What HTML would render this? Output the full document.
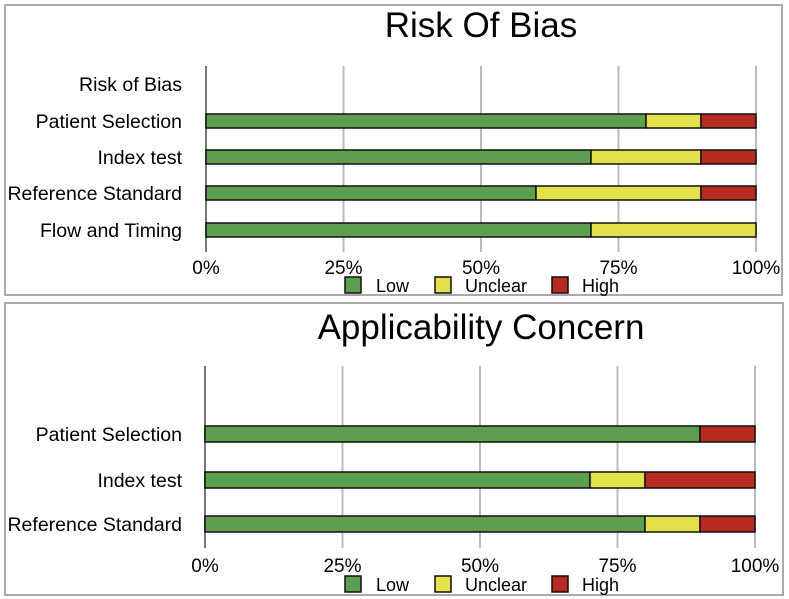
<!DOCTYPE html>
<html><head><meta charset="utf-8"><style>
body{margin:0;background:#fff;font-family:"Liberation Sans",sans-serif;}
svg{display:block}
</style></head><body>
<svg id="c" width="789" height="599" xmlns="http://www.w3.org/2000/svg">
<rect x="5" y="5" width="777" height="290" fill="#fff" stroke="#aaa" stroke-width="2"/>
<rect x="5" y="303" width="778" height="292" fill="#fff" stroke="#aaa" stroke-width="2"/>
</svg>
<script>
const robCats=["Risk of Bias","Patient Selection","Index test","Reference Standard","Flow and Timing"];
const robLow=[null,80,70,60,70];
const robUnclear=[null,10,20,30,30];
const robHigh=[null,10,10,10,0];
const acCats=["Patient Selection","Index test","Reference Standard"];
const acLow=[90,70,80];
const acUnclear=[0,10,10];
const acHigh=[10,20,10];
const ticks=["0%","25%","50%","75%","100%"];
const tickVals=[0,25,50,75,100];
const seriesNames=["Low","Unclear","High"];
const colors=["#5e9f4f","#e4e04c","#b72b22"];
const svg=document.getElementById('c');
const NS="http://www.w3.org/2000/svg";
function mk(t,a,txt){const e=document.createElementNS(NS,t);for(const k in a)e.setAttribute(k,a[k]);if(txt!=null)e.textContent=txt;svg.appendChild(e);return e;}
function panel(p){
  const x=v=>p.x0+(p.x1-p.x0)*v/100;
  let t=mk('text',{x:481,y:p.titleY,'font-size':35,'text-anchor':'middle'},p.title);
  
  
  tickVals.forEach((v,i)=>{
    let l=mk('line',{x1:x(v),x2:x(v),y1:p.gy0,y2:p.gy1,stroke:i==0?'#777':'#bbb','stroke-width':2});
    
    
    let tl=mk('text',{x:x(v),y:p.tickY,'font-size':19,'text-anchor':'middle'},ticks[i]);
    
    
  });
  p.cats.forEach((c,i)=>{
    const cy=p.rows[i];
    let lb=mk('text',{x:182,y:cy+7,'font-size':19.5,'text-anchor':'end'},c);
    
    
    if(p.low[i]==null)return;
    const vals=[p.low[i],p.unc[i],p.high[i]];
    let acc=0;
    vals.forEach((v,j)=>{
      if(v>0){
        let r=mk('rect',{x:x(acc),y:cy-p.bh/2,width:x(acc+v)-x(acc),height:p.bh,fill:colors[j],stroke:'#111','stroke-width':1.5});
        
        
      }
      acc+=v;
    });
  });
  const lx=[345,435,552];
  const tx=[376,465,582];
  seriesNames.forEach((n,j)=>{
    let s=mk('rect',{x:lx[j],y:p.legY-8,width:16,height:16,fill:colors[j],stroke:'#111','stroke-width':1.5});
    
    
    let tt=mk('text',{x:tx[j],y:p.legY+7,'font-size':18},n);
    
    
  });
}
panel({key:'rob',title:'Risk Of Bias',titleY:37,x0:206,x1:756,gy0:66,gy1:252,tickY:274,legY:285,cats:robCats,low:robLow,unc:robUnclear,high:robHigh,rows:[84,121,157,193,230],bh:14});
panel({key:'ac',title:'Applicability Concern',titleY:339,x0:205,x1:755,gy0:366,gy1:548,tickY:572,legY:584,cats:acCats,low:acLow,unc:acUnclear,high:acHigh,rows:[434,480,524],bh:16});
</script>
</body></html>
